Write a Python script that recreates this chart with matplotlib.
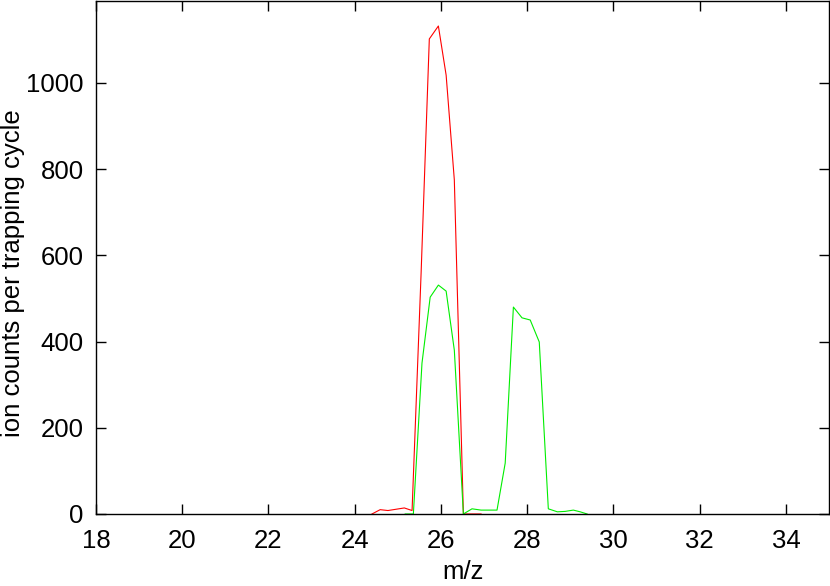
import matplotlib
matplotlib.use("Agg")
import matplotlib.pyplot as plt

plt.rcParams['font.family'] = ['Liberation Sans', 'DejaVu Sans']

# red trace
red_mz = [24.40, 24.59, 24.77, 24.96, 25.15, 25.33, 25.54, 25.73, 25.94, 26.12, 26.31, 26.52, 26.72, 26.93]
red_counts = [0, 10, 8, 11, 14, 8, 560, 1102, 1132, 1018, 775, 0, 0, 0]

# green trace
green_mz = [25.17, 25.36, 25.56, 25.75, 25.94, 26.12, 26.31, 26.52, 26.72, 26.93, 27.12, 27.30, 27.49,
            27.68, 27.88, 28.07, 28.28, 28.49, 28.70, 28.88, 29.07, 29.23, 29.39]
green_counts = [0, 0, 350, 503, 531, 517, 380, 0, 12, 9, 9, 9, 118,
                480, 455, 450, 399, 12, 5, 6, 9, 5, 0]

xticks = [18, 20, 22, 24, 26, 28, 30, 32, 34]
yticks = [0, 200, 400, 600, 800, 1000]

fig = plt.figure(figsize=(8.3, 5.86), dpi=100)
ax = fig.add_axes([0.1157, 0.1229, 0.8831, 0.8754])

ax.plot(red_mz, red_counts, color='#ff0000', lw=0.8)
ax.plot(green_mz, green_counts, color='#00ee00', lw=0.8)

ax.set_xlim(18, 35)
ax.set_ylim(0, 1190)
ax.set_xticks(xticks)
ax.set_yticks(yticks)
ax.tick_params(direction='in', length=7, width=1, top=True, right=True,
               labelsize=18.5)
ax.tick_params(axis='x', pad=11)
ax.tick_params(axis='y', pad=9)
for s in ax.spines.values():
    s.set_linewidth(1)
ax.set_xlabel('m/z', fontsize=18.5)
ax.xaxis.set_label_coords(0.5, -0.113)
ax.xaxis.label.set_va('center')
ax.set_ylabel('ion counts per trapping cycle', fontsize=18.5)
ax.yaxis.set_label_coords(-0.113, 0.47)
ax.yaxis.label.set_va('center')

fig.savefig('out.png', dpi=100)
